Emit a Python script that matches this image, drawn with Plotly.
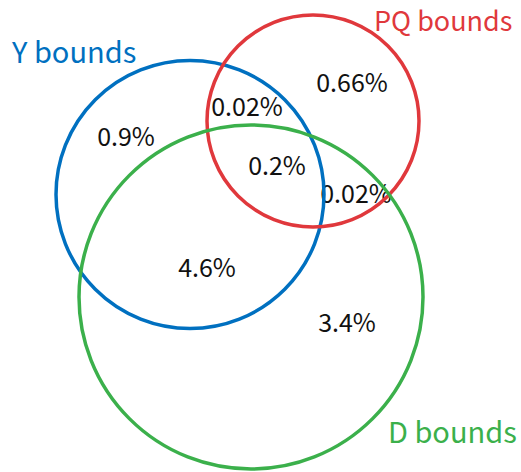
import plotly.graph_objects as go

# Sets (circles)
set_names = ["Y bounds", "PQ bounds", "D bounds"]
set_colors = ["#0070C0", "#E0383C", "#3BB04B"]
circle_cx = [190, 313, 251]
circle_cy = [194.5, 121, 297]
circle_r = [134, 106, 172]

# Set label positions
label_x = [73, 443, 452]
label_y = [50, 19, 430]
label_size = [29, 27, 29]

# Region values
region_text = ["0.9%", "0.02%", "0.66%", "0.2%", "0.02%", "4.6%", "3.4%"]
region_x = [126, 247, 352, 277, 356, 207, 347]
region_y = [140, 110, 86, 169, 197, 271, 326]

fig = go.Figure()

for name, col, cx, cy, r in zip(set_names, set_colors, circle_cx, circle_cy, circle_r):
    fig.add_shape(type="circle", xref="x", yref="y",
                  x0=cx - r, x1=cx + r, y0=cy - r, y1=cy + r,
                  line=dict(color=col, width=3.5), fillcolor="rgba(0,0,0,0)")

fig.add_trace(go.Scatter(x=region_x, y=region_y, mode="text", text=region_text,
                         textfont=dict(family="Noto Sans CJK SC", size=25, color="#111111"),
                         hoverinfo="skip", showlegend=False))

for name, col, x, y, s in zip(set_names, set_colors, label_x, label_y, label_size):
    fig.add_annotation(x=x, y=y, text=name, showarrow=False, xref="x", yref="y",
                       borderpad=0,
                       font=dict(family="Noto Sans CJK SC", size=s, color=col))

fig.update_layout(
    width=521, height=472,
    margin=dict(l=0, r=0, t=0, b=0),
    paper_bgcolor="white", plot_bgcolor="white",
    xaxis=dict(range=[0, 521], visible=False, fixedrange=True),
    yaxis=dict(range=[472, 0], visible=False, fixedrange=True),
    showlegend=False,
)

fig.write_html("out.html", config={"displayModeBar": False},
               post_script="document.body.style.margin='0';document.body.style.overflow='hidden';")
